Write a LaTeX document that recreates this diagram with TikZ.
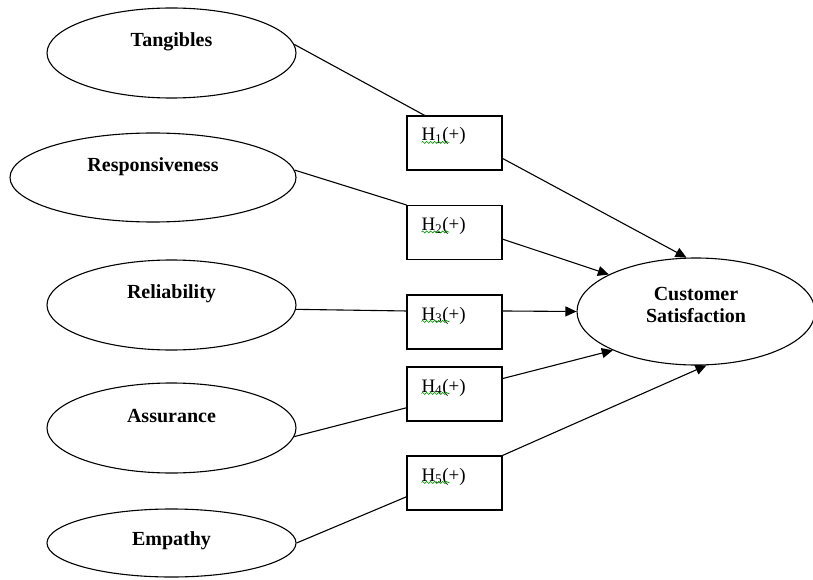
\documentclass[tikz,border=0pt]{standalone}
\usepackage{fontspec}
\setmainfont{Liberation Serif}
\usetikzlibrary{shapes.geometric,arrows.meta,calc,decorations.pathmorphing}
\begin{document}
\begin{tikzpicture}
[
    x=1pt, y=-1pt,
    line width=1.1pt,
    factor/.style={draw, ellipse, inner sep=0pt, minimum width=249pt, minimum height=90pt,
        font=\bfseries\fontsize{20}{22}\selectfont, text height=14pt, text depth=26pt},
    hyp/.style={draw, rectangle, inner sep=0pt, minimum width=95pt, minimum height=54pt,
        text width=66pt, align=left, font=\fontsize{19}{21}\selectfont, text height=13pt, text depth=17pt},
    link/.style={-{Triangle[length=11pt,width=10pt]}},
    spell/.style={green!60!black, line width=0.6pt, decorate, decoration={snake, amplitude=1pt, segment length=4pt}},
]
\useasboundingbox (0,0) rectangle (813,580);
\node[factor] (tan) at (171.5,53) {Tangibles};
\node[factor, minimum width=286pt, minimum height=89pt] (resp) at (153,177.5) {Responsiveness};
\node[factor, text depth=28pt] (rel) at (171.5,305) {Reliability};
\node[factor] (ass) at (171.5,428) {Assurance};
\node[factor, minimum height=68pt, text depth=10pt] (emp) at (171.5,543) {Empathy};
\node[factor, minimum width=238pt, minimum height=107pt, align=center, text height=36pt, text depth=15pt] (cs) at (696,311.5) {Customer\\Satisfaction};
\node[hyp] (h1) at (454.5,143) {H\textsubscript{1}(+)};
\node[hyp] (h2) at (454.5,232.5) {H\textsubscript{2}(+)};
\node[hyp] (h3) at (454.5,322) {H\textsubscript{3}(+)};
\node[hyp] (h4) at (454.5,394) {H\textsubscript{4}(+)};
\node[hyp] (h5) at (454.5,483) {H\textsubscript{5}(+)};
\foreach \b in {h1,h2,h3,h4,h5}
    \draw[spell] ($(\b.north west)+(15,27)$) -- ++(28,0);
\draw (tan.4) -- ($(h1.north west)!0.19!(h1.north east)$);
\draw[link] ($(h1.south east)!0.22!(h1.north east)$) -- (cs.100);
\draw (resp.3) -- (h2.north west);
\draw[link] ($(h2.south east)!0.38!(h2.north east)$) -- (cs.157);
\draw (rel.-2.5) -- ($(h3.south west)!0.70!(h3.north west)$);
\draw[link] ($(h3.south east)!0.70!(h3.north east)$) -- (cs.west);
\draw (ass.-4) -- ($(h4.south west)!0.25!(h4.north west)$);
\draw[link] ($(h4.south east)!0.78!(h4.north east)$) -- (cs.-155);
\draw (emp.east) -- ($(h5.south west)!0.25!(h5.north west)$);
\draw[link] (h5.north east) -- (cs.-79);
\end{tikzpicture}
\end{document}
